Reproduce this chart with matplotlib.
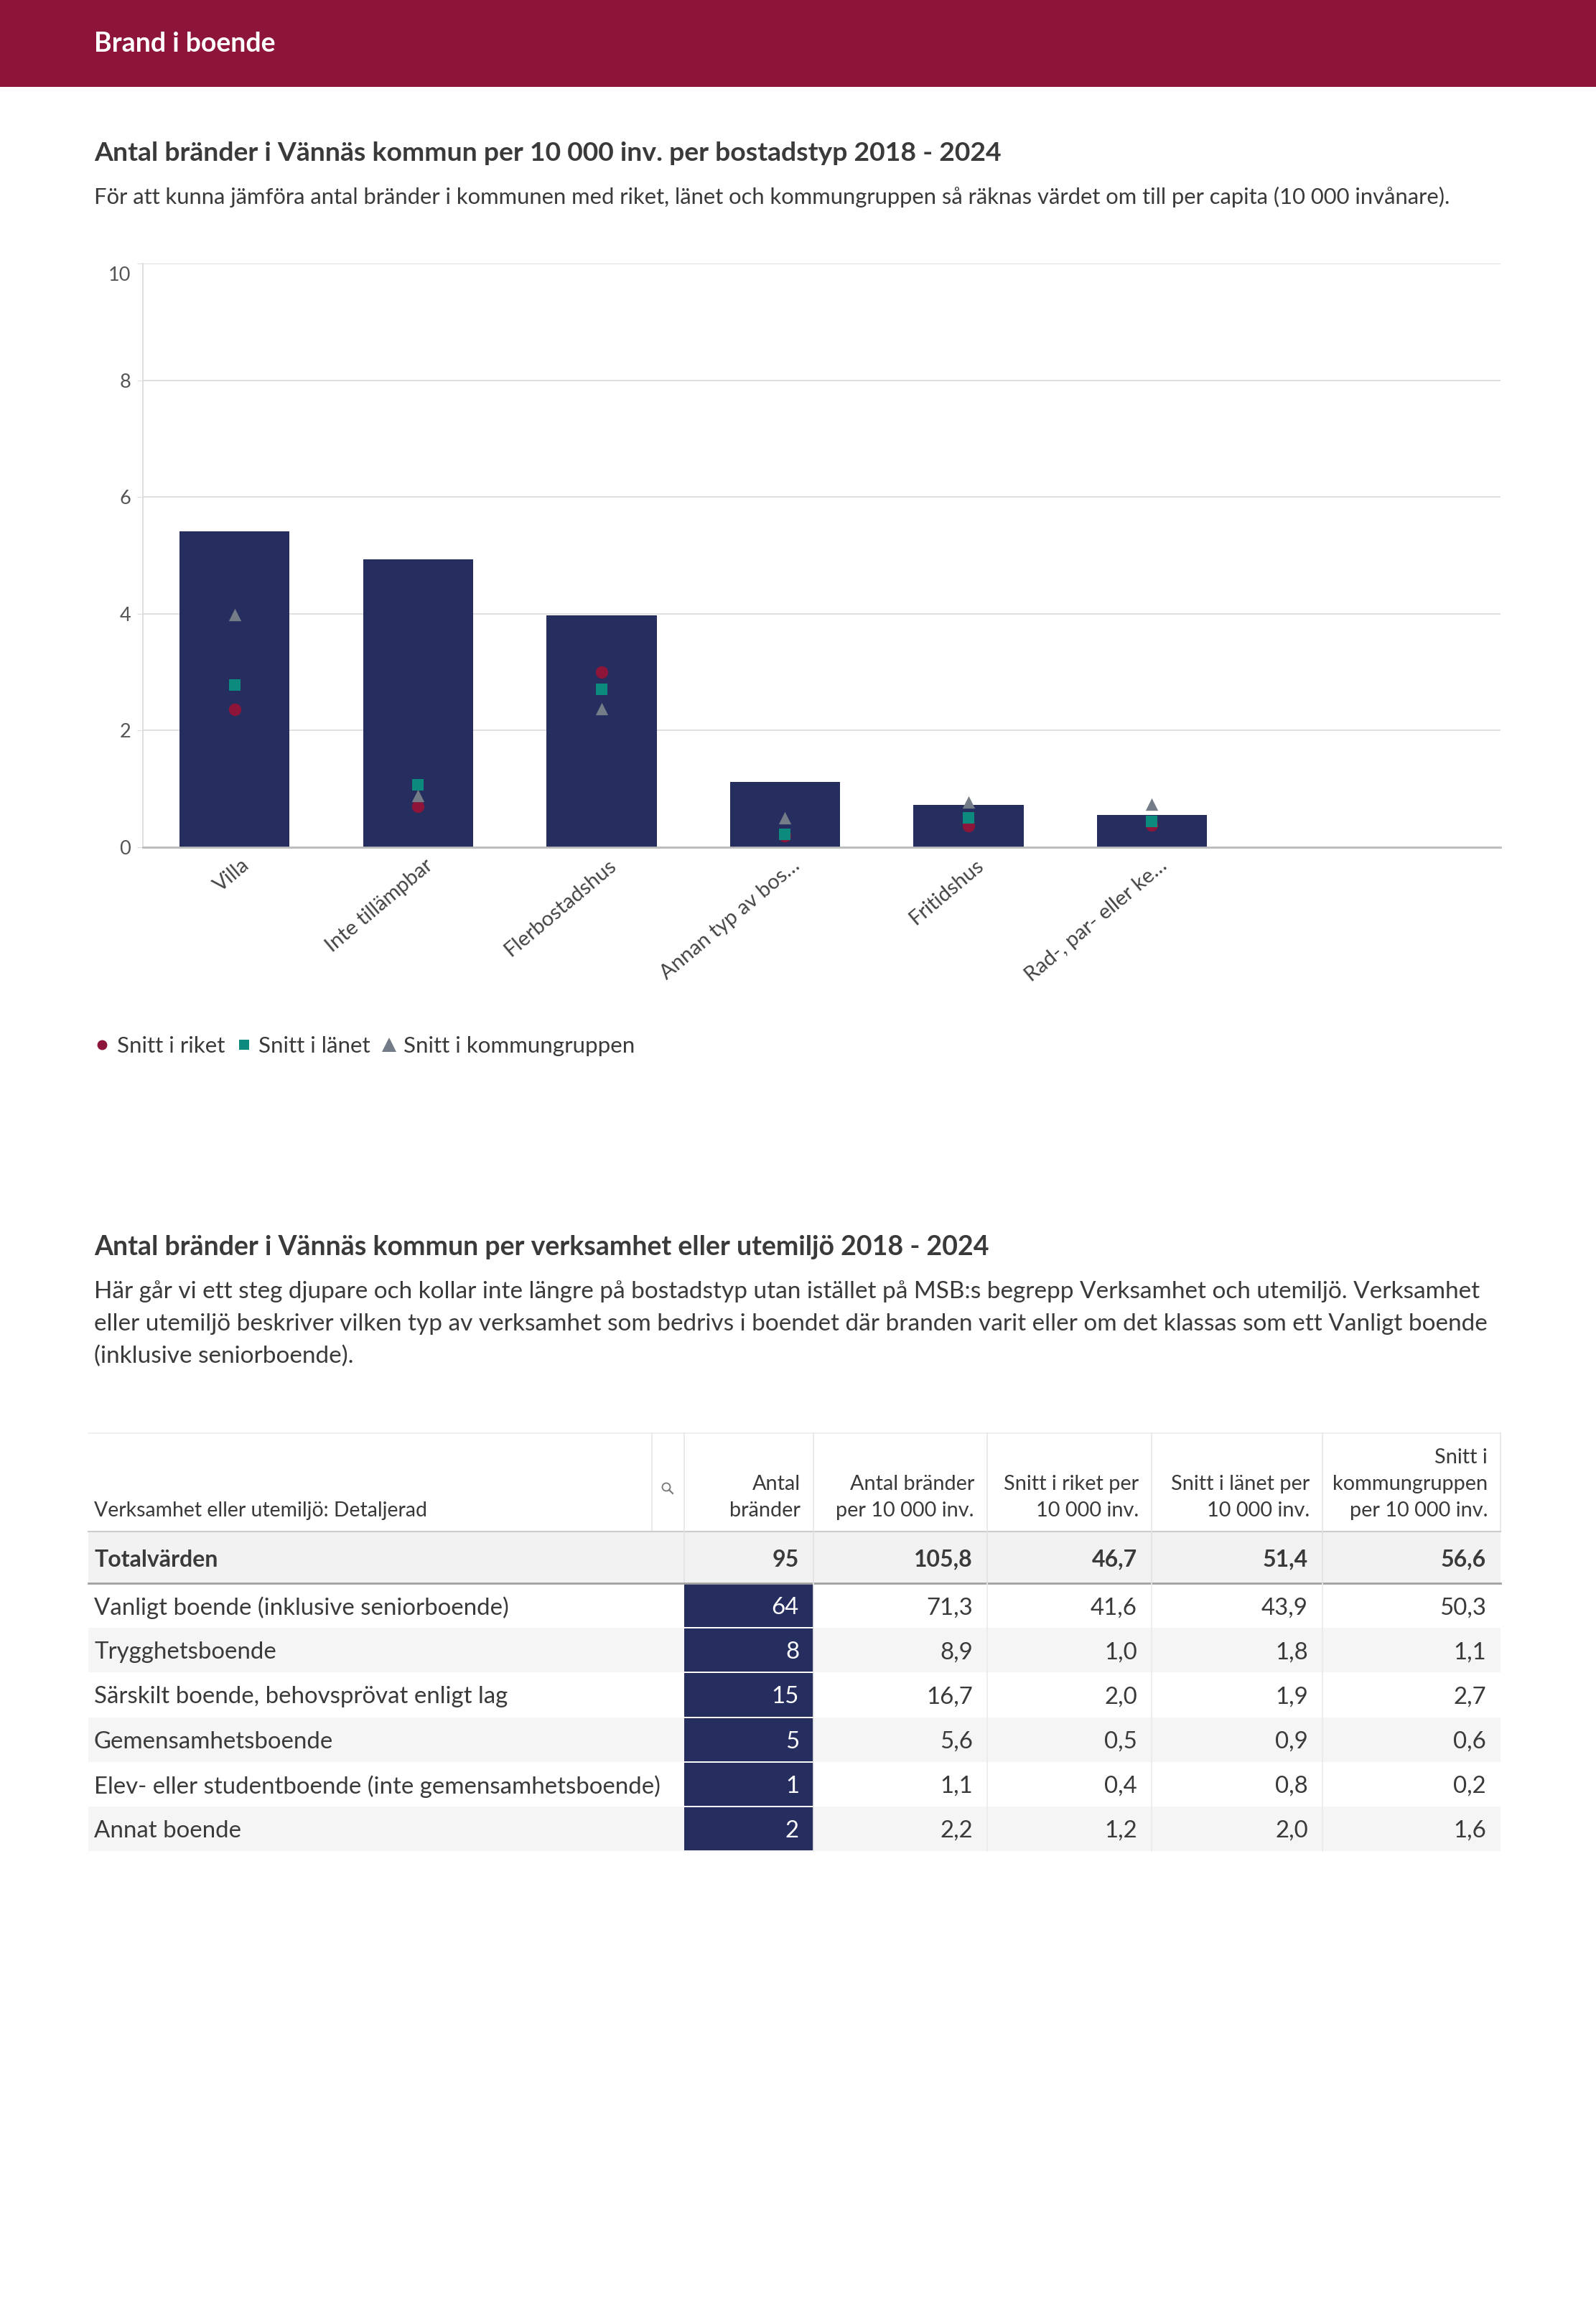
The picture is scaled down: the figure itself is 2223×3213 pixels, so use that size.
import matplotlib
matplotlib.use("Agg")
import matplotlib.pyplot as plt
from matplotlib.patches import Rectangle, Circle
from matplotlib.lines import Line2D
from matplotlib.transforms import ScaledTranslation

plt.rcParams['font.family'] = ['Lato', 'DejaVu Sans']

# ---------------- data ----------------
categories = ["Villa", "Inte tillämpbar", "Flerbostadshus", "Annan typ av bos…",
              "Fritidshus", "Rad-, par- eller ke…"]
kommun_values = [5.41, 4.93, 3.97, 1.12, 0.73, 0.55]
riket_values = [2.36, 0.70, 3.00, 0.20, 0.37, 0.38]
lanet_values = [2.78, 1.07, 2.71, 0.22, 0.50, 0.44]
kgrp_values = [3.98, 0.88, 2.38, 0.51, 0.78, 0.74]
y_ticks = [0, 2, 4, 6, 8, 10]
legend_labels = ["Snitt i riket", "Snitt i länet", "Snitt i kommungruppen"]

table_rows = ["Vanligt boende (inklusive seniorboende)", "Trygghetsboende",
              "Särskilt boende, behovsprövat enligt lag", "Gemensamhetsboende",
              "Elev- eller studentboende (inte gemensamhetsboende)", "Annat boende"]
t_antal = [64, 8, 15, 5, 1, 2]
t_per10k = [71.3, 8.9, 16.7, 5.6, 1.1, 2.2]
t_riket = [41.6, 1.0, 2.0, 0.5, 0.4, 1.2]
t_lanet = [43.9, 1.8, 1.9, 0.9, 0.8, 2.0]
t_kgrp = [50.3, 1.1, 2.7, 0.6, 0.2, 1.6]
t_total_label = "Totalvärden"
t_totals = [95, 105.8, 46.7, 51.4, 56.6]
t_first_header = "Verksamhet eller utemiljö: Detaljerad"
t_headers = [["Antal", "bränder"], ["Antal bränder", "per 10 000 inv."],
             ["Snitt i riket per", "10 000 inv."], ["Snitt i länet per", "10 000 inv."],
             ["Snitt i", "kommungruppen", "per 10 000 inv."]]

header_title = "Brand i boende"
title1 = "Antal bränder i Vännäs kommun per 10 000 inv. per bostadstyp 2018 - 2024"
sub1 = ("För att kunna jämföra antal bränder i kommunen med riket, länet och "
        "kommungruppen så räknas värdet om till per capita (10 000 invånare).")
title2 = "Antal bränder i Vännäs kommun per verksamhet eller utemiljö 2018 - 2024"
para2 = ["Här går vi ett steg djupare och kollar inte längre på bostadstyp utan istället på MSB:s begrepp Verksamhet och utemiljö. Verksamhet",
         "eller utemiljö beskriver vilken typ av verksamhet som bedrivs i boendet där branden varit eller om det klassas som ett Vanligt boende",
         "(inklusive seniorboende)."]

# ---------------- styles ----------------
W, H = 2223, 3213
RED = '#8C1539'
NAVY = '#252E5F'
TEAL = '#0B8A7D'
GRAY = '#747D87'
TXT = '#3A3A3A'

fig = plt.figure(figsize=(W / 100, H / 100), dpi=100)
fig.patch.set_facecolor('white')

# overlay axes in pixel coordinates
ov = fig.add_axes([0, 0, 1, 1], zorder=0)
ov.set_xlim(0, W)
ov.set_ylim(H, 0)
ov.axis('off')

# header band
ov.add_patch(Rectangle((0, 0), W, 121, color=RED, lw=0))
ov.text(131, 61, header_title, color='white', fontsize=27, fontweight='bold',
        va='center', ha='left')

ov.text(131, 213, title1, color=TXT, fontsize=26.9, fontweight='bold', va='center')
ov.text(131, 274, sub1, color=TXT, fontsize=22.3, va='center')

# ---------------- chart ----------------
ax_l, ax_r, ax_t, ax_b = 199, 2090, 367, 1180
ax = fig.add_axes([ax_l / W, 1 - ax_b / H, (ax_r - ax_l) / W, (ax_b - ax_t) / H], zorder=2)
ax.set_facecolor('none')
x = list(range(len(categories)))
ax.bar(x, kommun_values, width=0.6, color=NAVY, zorder=2)
ax.scatter(x, riket_values, marker='o', s=12.5 ** 2, color=RED, zorder=3, linewidths=0)
ax.scatter(x, lanet_values, marker='s', s=11 ** 2, color=TEAL, zorder=4, linewidths=0)
ax.scatter(x, kgrp_values, marker='^', s=12.5 ** 2, color=GRAY, zorder=5, linewidths=0)
ax.set_xlim(-0.5, 6.9)
ax.set_ylim(0, 10)
ax.set_yticks(y_ticks)
ax.set_yticklabels([str(v) for v in y_ticks])
ax.grid(axis='y', color='#DCDCDC', lw=1.3, zorder=0)
ax.set_axisbelow(True)
ax.tick_params(axis='y', length=6, color='#DCDCDC', labelsize=19.5, labelcolor='#555555', pad=6)
ax.tick_params(axis='x', length=0, labelbottom=False)
for s in ['top', 'right']:
    ax.spines[s].set_visible(False)
ax.spines['left'].set_color('#DCDCDC')
ax.spines['left'].set_linewidth(1.3)
ax.spines['bottom'].set_color('#BBBBBB')
ax.spines['bottom'].set_linewidth(2)
# top label sits slightly below its gridline as in the reference
top_lab = ax.get_yticklabels()[-1]
top_lab.set_transform(top_lab.get_transform() + ScaledTranslation(0, -0.14, fig.dpi_scale_trans))

off = ScaledTranslation(0.09, -0.12, fig.dpi_scale_trans)
for i, c in enumerate(categories):
    ax.text(i, 0, c, transform=ax.get_xaxis_transform() + off, rotation=40,
            rotation_mode='anchor', ha='right', va='top', fontsize=21, color='#444444')

handles = [Line2D([], [], ls='none', marker='o', ms=10, color=RED, mew=0),
           Line2D([], [], ls='none', marker='s', ms=10, color=TEAL, mew=0),
           Line2D([], [], ls='none', marker='^', ms=15, color=GRAY, mew=0)]
fig.legend(handles, legend_labels, loc='center left', bbox_to_anchor=(133 / W, 1 - 1457 / H),
           ncol=3, frameon=False, fontsize=22.5, handlelength=0.6, handletextpad=0.35,
           columnspacing=0.55, borderaxespad=0, borderpad=0, labelcolor=TXT)

# ---------------- section 2 ----------------
ov.text(131, 1737, title2, color=TXT, fontsize=27, fontweight='bold', va='center')
for k, line in enumerate(para2):
    ov.text(131, 1799 + 45 * k, line, color=TXT, fontsize=24, va='center')

# table geometry
cols = [123, 908, 953, 1133, 1375, 1604, 1842, 2090]
hdr_top, hdr_bot, tot_bot = 1996, 2133, 2205
row_h = (2578 - tot_bot) / len(table_rows)
sep = '#E6E6E6'

def fmt(v):
    return f"{v:.1f}".replace('.', ',')

# header
ov.plot([cols[0], cols[-1]], [hdr_top, hdr_top], color='#EEEEEE', lw=1.2)
for cx in cols[1:]:
    ov.plot([cx, cx], [hdr_top, hdr_bot], color=sep, lw=1.2)
ov.text(cols[0] + 8, 2104, t_first_header, color=TXT, fontsize=20.4, va='center')
# search icon
ov.add_patch(Circle((928, 2071), 5.5, fill=False, ec='#777777', lw=1.3))
ov.plot([932, 937], [2075, 2080], color='#777777', lw=1.5)
for j, lines in enumerate(t_headers):
    right = cols[j + 3] - 18
    n = len(lines)
    for k, ln in enumerate(lines):
        ov.text(right, 2104 - 37 * (n - 1 - k), ln, color=TXT, fontsize=20.8,
                ha='right', va='center')
ov.plot([cols[0], cols[-1]], [hdr_bot, hdr_bot], color='#CCCCCC', lw=1.5)

# total row
ov.add_patch(Rectangle((cols[0], hdr_bot), cols[-1] - cols[0], tot_bot - hdr_bot,
                       color='#F2F2F2', lw=0))
for cx in cols[2:-1]:
    ov.plot([cx, cx], [hdr_bot, tot_bot], color='#E2E2E2', lw=1.2)
ov.text(cols[0] + 8, (hdr_bot + tot_bot) / 2 + 3, t_total_label, color=TXT, fontsize=23,
        fontweight='bold', va='center')
for j, v in enumerate(t_totals):
    s = str(v) if j == 0 else fmt(v)
    ov.text(cols[j + 3] - 20, (hdr_bot + tot_bot) / 2 + 3, s, color=TXT, fontsize=23,
            fontweight='bold', ha='right', va='center')
ov.plot([cols[0], cols[-1]], [tot_bot, tot_bot], color='#A0A0A0', lw=2)

# data rows
for i, name in enumerate(table_rows):
    y0 = tot_bot + i * row_h
    yc = y0 + row_h / 2 + 3
    bg = '#F5F5F5' if i % 2 == 1 else 'white'
    ov.add_patch(Rectangle((cols[0], y0), cols[-1] - cols[0], row_h, color=bg, lw=0))
    ov.add_patch(Rectangle((cols[2], y0 + 1), cols[3] - cols[2], row_h - 2, color=NAVY, lw=0))
    for cx in cols[3:-1]:
        ov.plot([cx, cx], [y0, y0 + row_h], color='#EBEBEB', lw=1.2)
    ov.text(cols[0] + 8, yc, name, color=TXT, fontsize=23.8, va='center')
    ov.text(cols[3] - 20, yc, str(t_antal[i]), color='white', fontsize=23.8,
            ha='right', va='center')
    for j, arr in enumerate([t_per10k, t_riket, t_lanet, t_kgrp]):
        ov.text(cols[j + 4] - 20, yc, fmt(arr[i]), color=TXT, fontsize=23.8,
                ha='right', va='center')

fig.savefig('out.png', dpi=100, facecolor='white')
